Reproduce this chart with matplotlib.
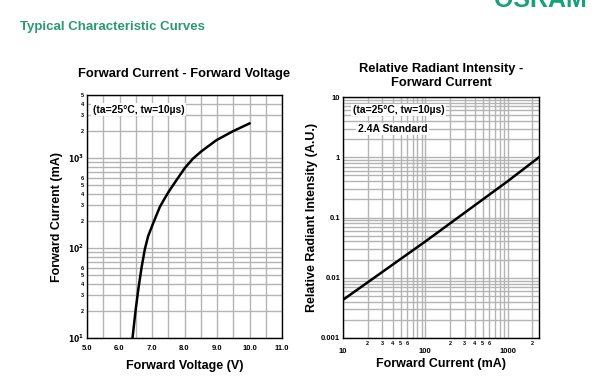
import numpy as np
import matplotlib.pyplot as plt
from matplotlib.ticker import FixedLocator, NullFormatter

# forward current vs forward voltage
vf = [6.40, 6.50, 6.58, 6.68, 6.78, 6.88, 7.04, 7.24, 7.37, 7.52, 7.75, 8.01, 8.26, 8.52, 8.98, 9.49, 10.0]
if_ma = [10, 21, 35, 61, 97, 135, 190, 285, 345, 425, 565, 773, 982, 1185, 1573, 1980, 2415]

# relative radiant intensity vs forward current
if2 = [10, 100, 1000, 2400]
rel_int = [0.0043, 0.04, 0.40, 1.0]

green = "#2a9a72"
grid_c = "#b4b4b4"

plt.rcParams['font.family'] = ['Liberation Sans', 'DejaVu Sans']
plt.rcParams['font.weight'] = 'bold'

fig = plt.figure(figsize=(6.09, 3.81), dpi=100)
W, H = 609, 381

fig.text(20/W, 1-27/H, "Typical Characteristic Curves", color=green, fontsize=9.5,
         fontweight='bold', ha='left', va='center')
fig.text(540/W, 1-7/H, "OSRAM", color="#17a07c", fontsize=18, fontweight='bold',
         ha='center', va='baseline')

def ax_at(l, r, t, b):
    return fig.add_axes([l/W, 1-b/H, (r-l)/W, (b-t)/H])

def minor_labels(vals, maxdigit):
    out = []
    for v in vals:
        d = int(str(int(v))[0])
        out.append(str(d) if d <= maxdigit else "")
    return out

# left chart
ax1 = ax_at(87, 282, 95, 338)
ax1.plot(vf, if_ma, color='black', lw=1.8)
ax1.set_yscale('log')
ax1.set_xlim(5.0, 11.0)
ax1.set_ylim(10, 5000)
ax1.set_xticks(np.arange(5.0, 11.01, 1.0))
ax1.set_xticklabels(["%.1f" % v for v in np.arange(5.0, 11.01, 1.0)], fontsize=5.5)
ax1.xaxis.set_minor_locator(FixedLocator(np.arange(5.5, 11.0, 1.0)))
ax1.set_yticks([10, 100, 1000])
ax1.set_yticklabels([r"$\mathbf{10^1}$", r"$\mathbf{10^2}$", r"$\mathbf{10^3}$"], fontsize=5.5)
ymin = [m * 10**k for k in (1, 2, 3) for m in range(2, 10) if m * 10**k <= 5000]
ax1.set_yticks(ymin, minor=True)
ax1.set_yticklabels(minor_labels(ymin, 6), minor=True, fontsize=4)
ax1.grid(True, which='both', color=grid_c, lw=1)
ax1.tick_params(which='both', length=0, pad=2)
ax1.tick_params(axis='x', pad=5)
ax1.set_title("Forward Current - Forward Voltage", fontsize=9.3, fontweight='bold', pad=13)
ax1.set_xlabel("Forward Voltage (V)", fontsize=9, fontweight='bold', labelpad=6)
ax1.set_ylabel("Forward Current (mA)", fontsize=9, fontweight='bold', labelpad=4)
ax1.text(0.03, 0.94, "(ta=25°C, tw=10µs)", transform=ax1.transAxes, fontsize=7.5,
         fontweight='bold', va='center', ha='left',
         bbox=dict(facecolor='white', edgecolor='none', pad=1))

# right chart
ax2 = ax_at(343, 539, 97, 338)
ax2.plot(if2, rel_int, color='black', lw=1.8)
ax2.set_xscale('log')
ax2.set_yscale('log')
ax2.set_xlim(10, 2400)
ax2.set_ylim(0.001, 10)
ax2.set_xticks([10, 100, 1000])
ax2.set_xticklabels(["10", "100", "1000"], fontsize=5.5)
xmin = [m * 10**k for k in (1, 2, 3) for m in range(2, 10) if m * 10**k <= 2400]
ax2.set_xticks(xmin, minor=True)
ax2.set_xticklabels(minor_labels(xmin, 6), minor=True, fontsize=4)
ax2.set_yticks([0.001, 0.01, 0.1, 1, 10])
ax2.set_yticklabels(["0.001", "0.01", "0.1", "1", "10"], fontsize=5.5)
ymin2 = [m * 10.0**k for k in (-3, -2, -1, 0) for m in range(2, 10)]
ax2.yaxis.set_minor_locator(FixedLocator(ymin2))
ax2.yaxis.set_minor_formatter(NullFormatter())
ax2.grid(True, which='both', color=grid_c, lw=1)
ax2.tick_params(which='both', length=0, pad=2)
ax2.tick_params(axis='x', which='major', pad=7)
ax2.set_title("Relative Radiant Intensity -\nForward Current", fontsize=9.3,
              fontweight='bold', pad=8, linespacing=1.25)
ax2.set_xlabel("Forward Current (mA)", fontsize=9, fontweight='bold', labelpad=2)
ax2.set_ylabel("Relative Radiant Intensity (A.U.)", fontsize=9, fontweight='bold', labelpad=2)
ax2.text(0.05, 0.946, "(ta=25°C, tw=10µs)", transform=ax2.transAxes, fontsize=7.5,
         fontweight='bold', va='center', ha='left',
         bbox=dict(facecolor='white', edgecolor='none', pad=1))
ax2.text(0.075, 0.867, "2.4A Standard", transform=ax2.transAxes, fontsize=7.5,
         fontweight='bold', va='center', ha='left',
         bbox=dict(facecolor='white', edgecolor='none', pad=1))

for ax in (ax1, ax2):
    for s in ax.spines.values():
        s.set_linewidth(1)
    ax.set_axisbelow(True)

fig.savefig("out.png", dpi=100)
